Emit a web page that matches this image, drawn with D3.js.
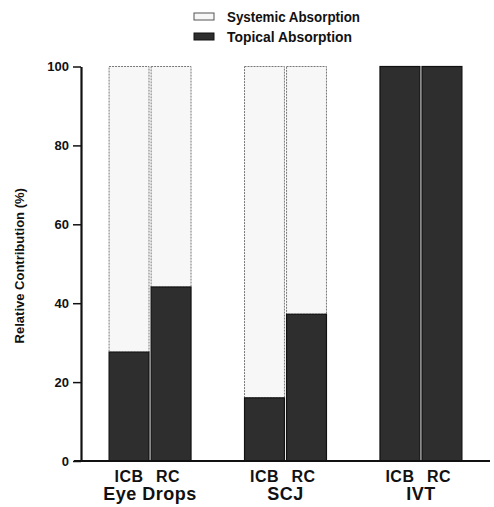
<!DOCTYPE html>
<html><head><meta charset="utf-8">
<script src="https://cdn.jsdelivr.net/npm/d3@7"></script>
<style>body{margin:0;background:#fff}svg{display:block}text{font-family:"Liberation Sans",Arial,sans-serif;font-weight:bold;fill:#111}</style>
</head><body>
<svg id="c" width="494" height="507"></svg>
<script>
const groups = ["Eye Drops", "SCJ", "IVT"];
const methods = ["ICB", "RC"];
const topical = [[27.6, 44.1], [16.0, 37.2], [100, 100]];
const yTicks = [0, 20, 40, 60, 80, 100];
const legendLabels = ["Systemic Absorption", "Topical Absorption"];

const svg = d3.select("#c");
const y = d3.scaleLinear().domain([0, 100]).range([461, 66.5]);
const x0 = d3.scaleBand().domain(groups).range([82, 489]).paddingInner(0.395).paddingOuter(0.2);
const x1 = d3.scaleBand().domain(methods).range([0, x0.bandwidth()]).paddingInner(0.05);

const darkFill = "#2e2e2e", lightFill = "#f7f7f7";

groups.forEach((g, gi) => {
  const gg = svg.append("g").attr("transform", `translate(${x0(g)},0)`);
  methods.forEach((m, mi) => {
    const v = topical[gi][mi];
    const bx = x1(m), bw = x1.bandwidth();
    if (v < 100) {
      gg.append("rect").attr("x", bx).attr("y", y(100)).attr("width", bw).attr("height", y(v) - y(100))
        .attr("fill", lightFill).attr("stroke", "#777").attr("stroke-width", 1).attr("stroke-dasharray", "2,1");
    }
    gg.append("rect").attr("x", bx).attr("y", y(v)).attr("width", bw).attr("height", y(0) - y(v))
      .attr("fill", darkFill).attr("stroke", "#111").attr("stroke-width", 1.2);
    gg.append("text").attr("x", bx + bw / 2 - (mi === 1 ? 3 : 0)).attr("y", 482).attr("text-anchor", "middle")
      .attr("font-size", 16).attr("letter-spacing", 0.5).text(m);
  });
  gg.append("text").attr("x", x0.bandwidth() / 2).attr("y", 500).attr("text-anchor", "middle")
    .attr("font-size", 18).attr("letter-spacing", 0.5).text(g);
});

// y axis
const yAxis = d3.axisLeft(y).tickValues(yTicks).tickSize(8).tickSizeOuter(0).tickPadding(4);
const ya = svg.append("g").attr("transform", "translate(81,0)").call(yAxis);
ya.select(".domain").attr("stroke", "#111").attr("stroke-width", 2.2);
ya.selectAll(".tick line").attr("stroke", "#111").attr("stroke-width", 1.5);
ya.selectAll(".tick text").attr("font-size", 13).attr("font-family", "Liberation Sans, Arial").attr("font-weight", "bold").attr("fill", "#111");

// x axis baseline
const xb = d3.scaleLinear().domain([0, 1]).range([74, 490]);
svg.append("line").attr("x1", xb(0)).attr("x2", xb(1)).attr("y1", y(0)).attr("y2", y(0))
  .attr("stroke", "#111").attr("stroke-width", 2.2);

// y label
svg.append("text").attr("transform", `translate(24,${(y(0) + y(100)) / 2 + 2}) rotate(-90)`)
  .attr("text-anchor", "middle").attr("font-size", 13).text("Relative Contribution (%)");

// legend
const leg = svg.append("g");
legendLabels.forEach((l, i) => {
  const yy = 17 + i * 20;
  leg.append("rect").attr("x", 194).attr("y", yy - 4).attr("width", 20).attr("height", 7)
    .attr("fill", i === 0 ? lightFill : darkFill).attr("stroke", i === 0 ? "#555" : "#111").attr("stroke-width", 1);
  leg.append("text").attr("x", 227).attr("y", yy + 5).attr("font-size", 14)
    .attr("textLength", i === 0 ? 133 : 125).attr("lengthAdjust", "spacingAndGlyphs").text(l);
});
</script>
</body></html>
